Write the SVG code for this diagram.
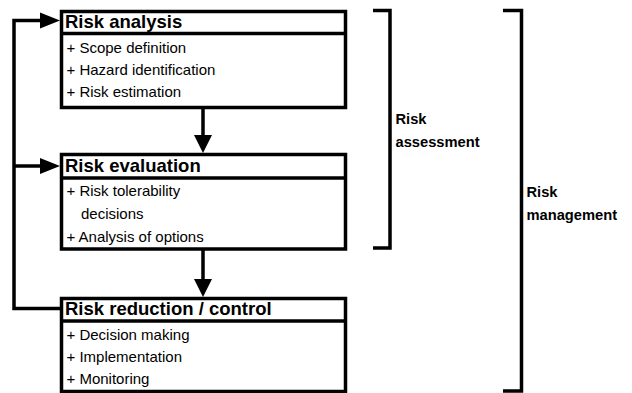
<svg xmlns="http://www.w3.org/2000/svg" width="632" height="393" viewBox="0 0 632 393">
<style>
.box{fill:#fff;stroke:#000;stroke-width:3.5}
.div{stroke:#000;stroke-width:3.5}
.hd{font-family:"Liberation Sans",Arial,sans-serif;font-weight:bold;font-size:18.5px;fill:#000}
.it{font-family:"Liberation Sans",Arial,sans-serif;font-size:15px;fill:#000}
.lb{font-family:"Liberation Sans",Arial,sans-serif;font-weight:bold;font-size:14.7px;fill:#000}
.ln{fill:none;stroke:#000;stroke-width:3.5}
.ah{fill:#000;stroke:none}
</style>
<rect width="632" height="393" fill="#fff"/>
<g id="connectors">
<path class="ln" d="M61 308.5H14V20.5H42"/>
<path class="ln" d="M14 166H42"/>
<polygon class="ah" points="40,12.5 40,28.5 60,20.5"/>
<polygon class="ah" points="40,158 40,174 60,166"/>
<path class="ln" d="M203 109V137"/>
<polygon class="ah" points="194,135 212,135 203,153"/>
<path class="ln" d="M203 250V280"/>
<polygon class="ah" points="194,279 212,279 203,297"/>
</g>
<g id="risk-analysis">
<rect class="box" x="61.5" y="11.5" width="284" height="96"/>
<line class="div" x1="61.5" y1="33.5" x2="345.5" y2="33.5"/>
<text class="hd" x="65" y="27.5">Risk analysis</text>
<text class="it" x="66.5" y="53">+ Scope definition</text>
<text class="it" x="66.5" y="75">+ Hazard identification</text>
<text class="it" x="66.5" y="97">+ Risk estimation</text>
</g>
<g id="risk-evaluation">
<rect class="box" x="61.5" y="154.5" width="284" height="94.5"/>
<line class="div" x1="61.5" y1="178" x2="345.5" y2="178"/>
<text class="hd" x="65" y="172">Risk evaluation</text>
<text class="it" x="66.5" y="196">+ Risk tolerability</text>
<text class="it" x="81" y="219">decisions</text>
<text class="it" x="66.5" y="242">+ Analysis of options</text>
</g>
<g id="risk-reduction">
<rect class="box" x="61.5" y="298.5" width="284" height="93"/>
<line class="div" x1="61.5" y1="321" x2="345.5" y2="321"/>
<text class="hd" x="65" y="314.5">Risk reduction / control</text>
<text class="it" x="66.5" y="340">+ Decision making</text>
<text class="it" x="66.5" y="362">+ Implementation</text>
<text class="it" x="66.5" y="384">+ Monitoring</text>
</g>
<g id="risk-assessment">
<path class="ln" d="M373 10.5H390V248H373"/>
<text class="lb" x="395.5" y="124">Risk</text>
<text class="lb" x="395.5" y="146.5">assessment</text>
</g>
<g id="risk-management">
<path class="ln" d="M503 10.5H521.5V391H503"/>
<text class="lb" x="526.5" y="197">Risk</text>
<text class="lb" x="526.5" y="220">management</text>
</g>
</svg>
